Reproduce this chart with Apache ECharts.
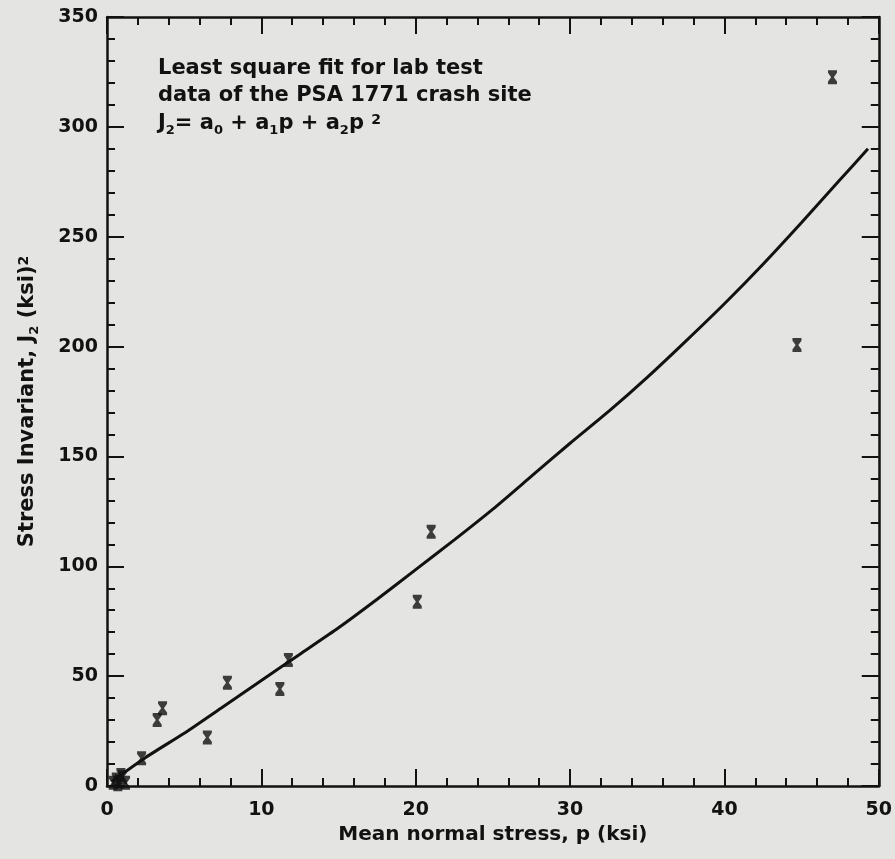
<!DOCTYPE html>
<html>
<head>
<meta charset="utf-8">
<script src="https://cdn.jsdelivr.net/npm/echarts@6/dist/echarts.min.js"></script>
<style>
  html, body { margin: 0; padding: 0; background: #e4e4e2; }
  #chart { width: 895px; height: 859px; }
</style>
</head>
<body>
<div id="chart"></div>
<script>
// Lab test measurements: mean normal stress p (ksi) vs. stress invariant J2 (ksi^2)
const testP  = [0.4, 0.6, 0.8, 1.0, 1.2, 0.7, 0.9, 2.24, 3.25, 3.6, 6.5, 7.8, 11.2, 11.75, 20.1, 21.0, 44.7, 47.0];
const testJ2 = [1.5, 3.0, 2.0, 4.0, 1.5, 0.8, 5.0, 12.6, 30.0, 35.4, 22.1, 47.0, 44.2, 57.4, 83.9, 115.7, 200.7, 322.6];

// Least square quadratic fit, sampled along p
const fitP  = [0.3, 2.5, 5, 7.5, 10, 12.5, 15, 17.5, 20, 22.5, 25, 27.5, 30, 32.5, 35, 37.5, 40, 42.5, 45, 47.5, 49.3];
const fitJ2 = [2.0, 13, 24, 36, 48, 60, 72, 85, 98.5, 112, 126, 141, 156, 170.5, 186, 202.5, 219.5, 237.5, 256.5, 276, 290];

const xTicks = [0, 10, 20, 30, 40, 50];
const yTicks = [0, 50, 100, 150, 200, 250, 300, 350];

const INK = '#121212';
const FONT = 'DejaVu Sans';

const scatterData = testP.map((p, i) => [p, testJ2[i]]);
const lineData = fitP.map((p, i) => [p, fitJ2[i]]);

// hourglass-shaped "x" marker
const hourglass = 'path://M0,0 L10,0 L10,3 L6.5,8 L10,13 L10,16 L0,16 L0,13 L3.5,8 L0,3 Z';

function frameAxis(pos, isX, ticks, withLabels) {
  return {
    type: 'value',
    position: pos,
    min: ticks[0],
    max: ticks[ticks.length - 1],
    interval: ticks[1] - ticks[0],
    axisLine: { show: true, onZero: false, lineStyle: { color: INK, width: 2.5 } },
    axisTick: { show: true, inside: true, length: 17, lineStyle: { color: INK, width: 2 } },
    minorTick: { show: true, splitNumber: 5, length: 8, lineStyle: { color: INK, width: 2 } },
    splitLine: { show: false },
    minorSplitLine: { show: false },
    axisLabel: { show: withLabels, color: INK, fontFamily: FONT, fontWeight: 'bold', fontSize: 19,
                 margin: isX ? 15 : 9 }
  };
}

const xBottom = Object.assign(frameAxis('bottom', true, xTicks, true), {
  name: 'Mean normal stress, p (ksi)',
  nameLocation: 'middle',
  nameGap: 38,
  nameTextStyle: { color: INK, fontFamily: FONT, fontWeight: 'bold', fontSize: 20 }
});
const xTop = frameAxis('top', true, xTicks, false);

const yLeft = Object.assign(frameAxis('left', false, yTicks, true), {
  name: '{m|Stress Invariant, J}{sub|2}{m| (ksi)}{sup|2}',
  nameLocation: 'middle',
  nameGap: 66,
  nameTextStyle: {
    color: INK, fontFamily: FONT, fontWeight: 'bold', fontSize: 21,
    rich: {
      m:   { fontFamily: FONT, fontWeight: 'bold', fontSize: 21, color: INK, lineHeight: 24, verticalAlign: 'top', padding: [0, 0, 6, 0] },
      sub: { fontFamily: FONT, fontWeight: 'bold', fontSize: 13, color: INK, lineHeight: 14, verticalAlign: 'bottom' },
      sup: { fontFamily: FONT, fontWeight: 'bold', fontSize: 14, color: INK, lineHeight: 14, verticalAlign: 'top' }
    }
  }
});
const yRight = frameAxis('right', false, yTicks, false);

const chart = echarts.init(document.getElementById('chart'), null, { renderer: 'canvas' });

const textStyleMain = { fontFamily: FONT, fontWeight: 'bold', fontSize: 21, fill: INK };

chart.setOption({
  backgroundColor: '#e4e4e2',
  animation: false,
  grid: { left: 107, right: 13, top: 17, bottom: 73, containLabel: false },
  xAxis: [xBottom, xTop],
  yAxis: [yLeft, yRight],
  graphic: [
    {
      type: 'text', left: 158, top: 58,
      style: Object.assign({ text: 'Least square fit for lab test' }, textStyleMain)
    },
    {
      type: 'text', left: 158, top: 85,
      style: Object.assign({ text: 'data of the PSA 1771 crash site' }, textStyleMain)
    },
    {
      type: 'text', left: 158, top: 113,
      style: {
        text: '{m|J}{sub|2}{m|= a}{sub|0}{m| + a}{sub|1}{m|p + a}{sub|2}{m|p }{sup|2}',
        fontFamily: FONT, fontWeight: 'bold', fontSize: 21, fill: INK,
        rich: {
          m:   { fontFamily: FONT, fontWeight: 'bold', fontSize: 21, fill: INK, lineHeight: 24, verticalAlign: 'top', padding: [0, 0, 6, 0] },
          sub: { fontFamily: FONT, fontWeight: 'bold', fontSize: 13, fill: INK, lineHeight: 14, verticalAlign: 'bottom' },
          sup: { fontFamily: FONT, fontWeight: 'bold', fontSize: 14, fill: INK, lineHeight: 14, verticalAlign: 'top' }
        }
      }
    }
  ],
  series: [
    {
      type: 'line',
      xAxisIndex: 0, yAxisIndex: 0,
      data: lineData,
      smooth: 0.2,
      showSymbol: false,
      lineStyle: { color: INK, width: 3 },
      z: 2
    },
    {
      type: 'scatter',
      xAxisIndex: 0, yAxisIndex: 0,
      data: scatterData,
      symbol: hourglass,
      symbolSize: [9, 14],
      itemStyle: { color: INK },
      z: 3
    }
  ]
});
</script>
</body>
</html>
